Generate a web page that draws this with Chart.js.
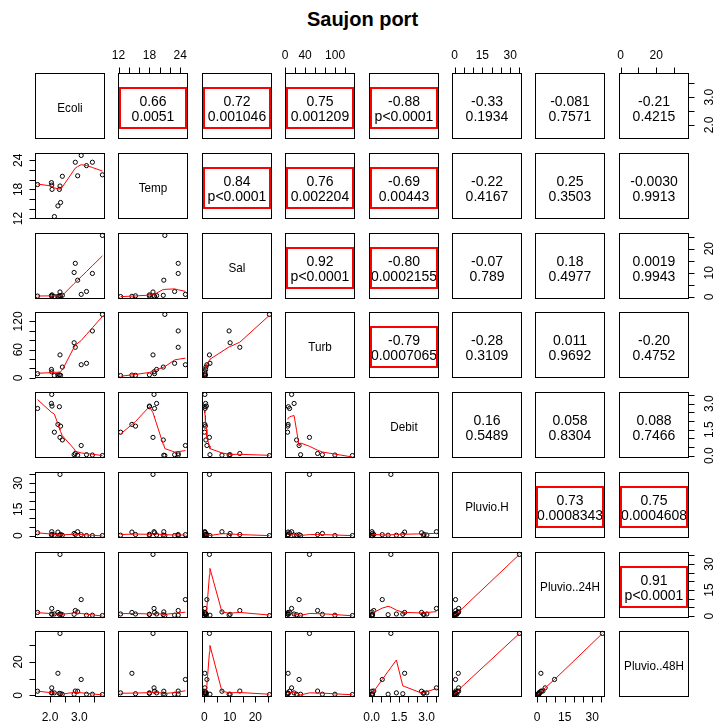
<!DOCTYPE html>
<html>
<head>
<meta charset="utf-8">
<script src="https://cdn.jsdelivr.net/npm/chart.js@4.4.1/dist/chart.umd.min.js"></script>
<style>
  body { margin: 0; background: #fff; width: 717px; height: 726px; position: relative; overflow: hidden; font-family: "Liberation Sans", Arial, sans-serif; }
  #titulo { position: absolute; left: 0; top: 8px; width: 725px; text-align: center; font-weight: bold; font-size: 20px; color: #000; }
  canvas { position: absolute; }
</style>
</head>
<body>
<div id="titulo">Saujon port</div>
<script>
// Nombres de las variables (diagonal)
const nombres = ["Ecoli", "Temp", "Sal", "Turb", "Debit", "Pluvio.H", "Pluvio..24H", "Pluvio..48H"];

// Observaciones (17 muestras, null = dato faltante)
const ecoli    = [1.58, 2.05, 2.06, 2.07, 2.15, 2.27, 2.34, 2.32, 2.36, 2.42, 2.82, 2.86, 2.94, 3.06, 3.24, 3.44, 3.78];
const temp     = [19.0, 19.4, 18.9, 18.0, 12.4, 14.6, 18.7, 18.0, 15.3, 20.7, null, 23.6, 20.8, 25.0, 22.9, 23.6, 21.0];
const sal      = [0.3, 0.5, 0.2, 0.8, 0.1, 0.2, 2.0, 0.3, 0.4, 0.6, 10.1, 13.9, 6.9, 1.0, 2.2, 9.7, 25.5];
const turb     = [9, 18, 13, null, 5, 6, 48.8, 6.5, 5.5, 23, 74.6, 65, null, 28, 31, 99.7, 134.7];
const debit    = [2.72, 3.01, 3.53, 2.86, 1.35, 1.80, 1.05, 2.82, 1.70, 0.90, 0.05, 0.12, 0.02, 0.58, 0.05, 0.03, 0.0];
const pluvioH  = [1.6, 0.3, 2.2, 0.7, 0.2, 2.0, 35.0, 0.2, 0.6, 0.2, 1.2, 0.6, 2.2, 0.5, 0.0, 0.0, 0.0];
const pluvio24 = [2.1, 1.2, 4.4, 1.0, 1.2, 2.1, 35.5, 1.0, 1.2, 0.8, 1.0, 3.2, 2.4, 9.5, 0.5, 0.5, 0.3];
const pluvio48 = [2.5, 1.5, 4.5, 1.5, 1.5, 13.2, 37.0, 1.2, 1.0, 0.7, 0.7, 2.6, 2.5, 9.5, 0.7, 0.7, 0.5];
const variables = [ecoli, temp, sal, turb, debit, pluvioH, pluvio24, pluvio48];

// Correlaciones del triangulo superior (fila por fila)
const textoR = ["0.66", "0.72", "0.75", "-0.88", "-0.33", "-0.081", "-0.21",
                "0.84", "0.76", "-0.69", "-0.22", "0.25", "-0.0030",
                "0.92", "-0.80", "-0.07", "0.18", "0.0019",
                "-0.79", "-0.28", "0.011", "-0.20",
                "0.16", "0.058", "0.088",
                "0.73", "0.75",
                "0.91"];
const textoP = ["0.0051", "0.001046", "0.001209", "p<0.0001", "0.1934", "0.7571", "0.4215",
                "p<0.0001", "0.002204", "0.00443", "0.4167", "0.3503", "0.9913",
                "p<0.0001", "0.0002155", "0.789", "0.4977", "0.9943",
                "0.0007065", "0.3109", "0.9692", "0.4752",
                "0.5489", "0.8304", "0.7466",
                "0.0008343", "0.0004608",
                "p<0.0001"];

// Marcas de los ejes y etiquetas visibles
const marcas = [[2, 2.5, 3, 3.5], [12, 14, 16, 18, 20, 22, 24], [0, 5, 10, 15, 20, 25],
                [0, 20, 40, 60, 80, 100, 120], [0, 0.5, 1, 1.5, 2, 2.5, 3, 3.5],
                [0, 5, 10, 15, 20, 25, 30, 35], [0, 5, 10, 15, 20, 25, 30, 35], [0, 10, 20, 30]];
const decimales = [1, 0, 0, 0, 1, 0, 0, 0];
const etiquetasArriba    = {1: [12, 18, 24], 3: [0, 40, 100], 5: [0, 15, 30], 7: [0, 20]};
const etiquetasAbajo     = {0: [2, 3], 2: [0, 10, 20], 4: [0, 1.5, 3], 6: [0, 15, 30]};
const etiquetasIzquierda = {1: [12, 18, 24], 3: [0, 60, 120], 5: [0, 15, 30], 7: [0, 20]};
const etiquetasDerecha   = {0: [2, 3], 2: [0, 10, 20], 4: [0, 1.5, 3], 6: [0, 15, 30]};

// Rango de cada variable con 4% de margen (como R)
const rangos = variables.map((v) => {
  const ok = v.filter((d) => d !== null);
  const mn = Math.min(...ok), mx = Math.max(...ok), r = mx - mn;
  return { min: mn - 0.04 * r, max: mx + 0.04 * r };
});

// lowess de R (clowess)
const lowest = (x, y, n, xs, nleft, nright, w, userw, rw) => {
  const range = x[n - 1] - x[0];
  const h = Math.max(xs - x[nleft], x[nright] - xs);
  const h9 = 0.999 * h, h1 = 0.001 * h;
  let a = 0, j = nleft;
  while (j < n) {
    w[j] = 0;
    const r = Math.abs(x[j] - xs);
    if (r <= h9) {
      w[j] = r <= h1 ? 1 : Math.pow(1 - Math.pow(r / h, 3), 3);
      if (userw) w[j] *= rw[j];
      a += w[j];
    } else if (x[j] > xs) break;
    j++;
  }
  const nrt = j - 1;
  if (a <= 0) return null;
  for (j = nleft; j <= nrt; j++) w[j] /= a;
  if (h > 0) {
    a = 0;
    for (j = nleft; j <= nrt; j++) a += w[j] * x[j];
    let b = xs - a, c = 0;
    for (j = nleft; j <= nrt; j++) c += w[j] * (x[j] - a) * (x[j] - a);
    if (Math.sqrt(c) > 0.001 * range) {
      b /= c;
      for (j = nleft; j <= nrt; j++) w[j] *= b * (x[j] - a) + 1;
    }
  }
  let ys = 0;
  for (j = nleft; j <= nrt; j++) ys += w[j] * y[j];
  return ys;
};

const lowess = (xin, yin, f = 2 / 3, iter = 3) => {
  const orden = xin.map((_, k) => k).sort((a, b) => xin[a] - xin[b]);
  const x = orden.map((k) => xin[k]), y = orden.map((k) => yin[k]);
  const n = x.length;
  const ns = Math.max(2, Math.min(n, Math.floor(f * n + 1e-7)));
  const delta = 0.01 * (x[n - 1] - x[0]);
  const ys = new Array(n).fill(0), w = new Array(n).fill(0);
  const rw = new Array(n).fill(1), res = new Array(n).fill(0);
  for (let it = 1; it <= iter + 1; it++) {
    let nleft = 0, nright = ns - 1, last = -1, i = 0;
    for (;;) {
      if (nright < n - 1) {
        const d1 = x[i] - x[nleft], d2 = x[nright + 1] - x[i];
        if (d1 > d2) { nleft++; nright++; continue; }
      }
      const v = lowest(x, y, n, x[i], nleft, nright, w, it > 1, rw);
      ys[i] = v === null ? y[i] : v;
      if (last < i - 1) {
        const denom = x[i] - x[last];
        for (let j = last + 1; j < i; j++) {
          const alpha = (x[j] - x[last]) / denom;
          ys[j] = alpha * ys[i] + (1 - alpha) * ys[last];
        }
      }
      last = i;
      const cut = x[last] + delta;
      for (i = last + 1; i < n; i++) {
        if (x[i] > cut) break;
        if (x[i] === x[last]) { ys[i] = ys[last]; last = i; }
      }
      i = Math.max(last + 1, i - 1);
      if (last >= n - 1) break;
    }
    for (let k = 0; k < n; k++) res[k] = y[k] - ys[k];
    if (it > iter) break;
    let sc = 0;
    for (let k = 0; k < n; k++) sc += Math.abs(res[k]);
    sc /= n;
    const ar = res.map(Math.abs).sort((a, b) => a - b);
    const m1 = Math.floor(n / 2);
    const cmad = n % 2 === 0 ? 3 * (ar[m1] + ar[n - m1 - 1]) : 6 * ar[m1];
    if (cmad < 1e-7 * sc) break;
    const c9 = 0.999 * cmad, c1 = 0.001 * cmad;
    for (let k = 0; k < n; k++) {
      const r = Math.abs(res[k]);
      rw[k] = r <= c1 ? 1 : r <= c9 ? Math.pow(1 - Math.pow(r / cmad, 2), 2) : 0;
    }
  }
  return x.map((xv, k) => ({ x: xv, y: ys[k] }));
};

const FUENTE = '"Liberation Sans", Arial, sans-serif';
const formato = (v, d) => v.toFixed(d);

// Dibuja un eje estilo R (linea entre marcas, marcas hacia fuera)
const dibujarEje = (ctx, a, escala, lado, valores, etiquetas, dec) => {
  const vis = valores.filter((v) => v >= escala.min && v <= escala.max);
  const pos = vis.map((v) => escala.getPixelForValue(v));
  ctx.beginPath();
  if (lado === "arriba" || lado === "abajo") {
    const y = lado === "arriba" ? a.top + 0.5 : a.bottom - 0.5;
    const s = lado === "arriba" ? -6 : 6;
    ctx.moveTo(pos[0], y); ctx.lineTo(pos[pos.length - 1], y);
    pos.forEach((p) => { ctx.moveTo(Math.round(p) + 0.5, y); ctx.lineTo(Math.round(p) + 0.5, y + s); });
  } else {
    const x = lado === "izquierda" ? a.left + 0.5 : a.right - 0.5;
    const s = lado === "izquierda" ? -6 : 6;
    ctx.moveTo(x, pos[0]); ctx.lineTo(x, pos[pos.length - 1]);
    pos.forEach((p) => { ctx.moveTo(x, Math.round(p) + 0.5); ctx.lineTo(x + s, Math.round(p) + 0.5); });
  }
  ctx.stroke();
  ctx.font = "12px " + FUENTE;
  ctx.textAlign = "center";
  ctx.textBaseline = "middle";
  etiquetas.forEach((v) => {
    const p = escala.getPixelForValue(v);
    const t = formato(v, dec);
    if (lado === "arriba") ctx.fillText(t, p, a.top - 17);
    else if (lado === "abajo") ctx.fillText(t, p, a.bottom + 21);
    else {
      ctx.save();
      ctx.translate(lado === "izquierda" ? a.left - 16 : a.right + 21, p);
      ctx.rotate(-Math.PI / 2);
      ctx.fillText(t, 0, 0);
      ctx.restore();
    }
  });
};

const pluginPanel = {
  id: "panel",
  afterDatasetsDraw(chart, args, opts) {
    const { ctx, chartArea: a, scales } = chart;
    const i = opts.fila, j = opts.col;
    const cx = (a.left + a.right) / 2, cy = (a.top + a.bottom) / 2;
    ctx.save();
    ctx.strokeStyle = "#000";
    ctx.fillStyle = "#000";
    ctx.lineWidth = 1;
    ctx.strokeRect(a.left + 0.5, a.top + 0.5, a.right - a.left - 1, a.bottom - a.top - 1);

    if (i === j) {
      // nombre en la diagonal, letra algo estrecha como en R
      ctx.save();
      ctx.translate(cx, cy + 2);
      ctx.scale(0.9, 1);
      ctx.font = "13px " + FUENTE;
      ctx.textAlign = "center";
      ctx.textBaseline = "middle";
      ctx.fillText(nombres[i], 0, 0);
      ctx.restore();
    } else if (i < j) {
      const k = opts.indice;
      const p = textoP[k];
      const signif = p.startsWith("p<") || parseFloat(p) < 0.05;
      ctx.font = "14px " + FUENTE;
      ctx.textAlign = "center";
      ctx.textBaseline = "alphabetic";
      ctx.fillText(textoR[k], cx, cy);
      ctx.fillText(p, cx, cy + 15);
      if (signif) {
        ctx.strokeStyle = "#ff0000";
        ctx.lineWidth = 2;
        ctx.strokeRect(a.left + 2, cy - 18, a.right - a.left - 4, 40);
        ctx.strokeStyle = "#000";
        ctx.lineWidth = 1;
      }
    }

    if (i === 0 && j % 2 === 1) dibujarEje(ctx, a, scales.x, "arriba", marcas[j], etiquetasArriba[j], decimales[j]);
    if (i === 7 && j % 2 === 0) dibujarEje(ctx, a, scales.x, "abajo", marcas[j], etiquetasAbajo[j], decimales[j]);
    if (j === 0 && i % 2 === 1) dibujarEje(ctx, a, scales.y, "izquierda", marcas[i], etiquetasIzquierda[i], decimales[i]);
    if (j === 7 && i % 2 === 0) dibujarEje(ctx, a, scales.y, "derecha", marcas[i], etiquetasDerecha[i], decimales[i]);
    ctx.restore();
  }
};

// Construccion de la matriz de paneles
const M = 30, anchoPanel = 70, altoPanel = 66;
let indiceSup = {};
let contador = 0;
for (let i = 0; i < 8; i++) for (let j = i + 1; j < 8; j++) indiceSup[i + "-" + j] = contador++;

for (let i = 0; i < 8; i++) {
  for (let j = 0; j < 8; j++) {
    const x0 = 35 + Math.round(j * 83.4);
    const y0 = 73 + Math.round(i * 79.75);
    const lienzo = document.createElement("canvas");
    lienzo.width = anchoPanel + 2 * M;
    lienzo.height = altoPanel + 2 * M;
    lienzo.style.left = (x0 - M) + "px";
    lienzo.style.top = (y0 - M) + "px";
    document.body.appendChild(lienzo);

    const datasets = [];
    if (i > j) {
      const xs = [], ys = [];
      variables[j].forEach((v, k) => {
        const w = variables[i][k];
        if (v !== null && w !== null) { xs.push(v); ys.push(w); }
      });
      datasets.push({
        data: lowess(xs, ys),
        showLine: true,
        borderColor: "#ff0000",
        borderWidth: 1,
        pointRadius: 0,
        tension: 0,
        clip: false
      });
      datasets.push({
        data: xs.map((v, k) => ({ x: v, y: ys[k] })),
        pointRadius: 2.1,
        pointBorderWidth: 1,
        pointBorderColor: "#000",
        pointBackgroundColor: "rgba(0,0,0,0)",
        showLine: false,
        clip: false
      });
    }

    new Chart(lienzo, {
      type: "scatter",
      data: { datasets },
      options: {
        responsive: false,
        animation: false,
        devicePixelRatio: 1,
        layout: { padding: { left: M, right: M, top: M, bottom: M } },
        scales: {
          x: { type: "linear", min: rangos[j].min, max: rangos[j].max, display: false },
          y: { type: "linear", min: rangos[i].min, max: rangos[i].max, display: false }
        },
        plugins: {
          legend: { display: false },
          tooltip: { enabled: false },
          panel: { fila: i, col: j, indice: i < j ? indiceSup[i + "-" + j] : -1 }
        }
      },
      plugins: [pluginPanel]
    });
  }
}
</script>
</body>
</html>
